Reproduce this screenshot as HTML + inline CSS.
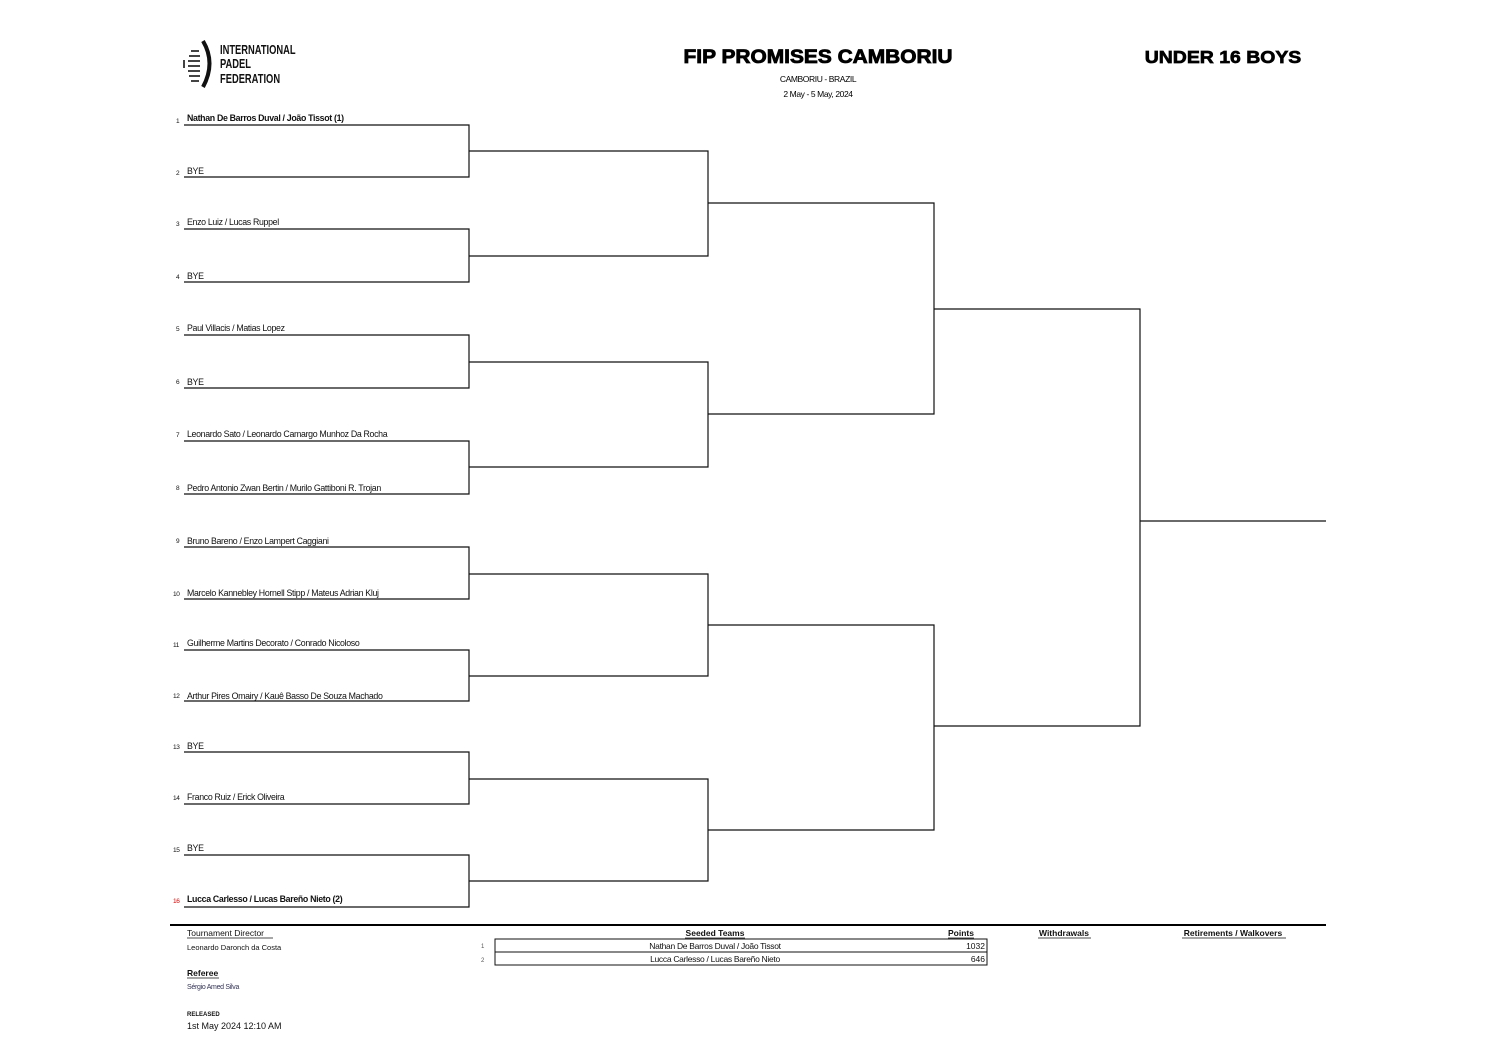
<!DOCTYPE html>
<html><head><meta charset="utf-8"><style>
html,body{margin:0;padding:0;background:#fff;}
svg{display:block;font-family:"Liberation Sans",sans-serif;}
.n{font-size:8.8px;letter-spacing:-0.33px;fill:#111;}
.b{font-weight:bold;}
.num{font-size:6.5px;fill:#111;}
</style></head><body>
<svg width="1496" height="1059" viewBox="0 0 1496 1059" xmlns="http://www.w3.org/2000/svg">
<!-- logo -->
<path d="M203 41 Q216 63 203 87" stroke="#111" stroke-width="4" fill="none"/>
<g fill="#444">
<rect x="191" y="50" width="8" height="2"/><rect x="189" y="55" width="11" height="2"/><rect x="188" y="60" width="12" height="2"/><rect x="188" y="65" width="12" height="2"/><rect x="188" y="70" width="12" height="2"/><rect x="189" y="75" width="11" height="2"/><rect x="191" y="80" width="8" height="2"/><rect x="183" y="60" width="2" height="8"/>
</g>
<g font-size="13" font-weight="bold" fill="#111" transform="translate(220,0) scale(0.72,1)">
<text x="0" y="54">INTERNATIONAL</text><text x="0" y="68">PADEL</text><text x="0" y="83">FEDERATION</text>
</g>
<g transform="translate(818,0) scale(1.1,1)">
<text x="0" y="63" font-size="19" font-weight="bold" text-anchor="middle" fill="#000" stroke="#000" stroke-width="0.8">FIP PROMISES CAMBORIU</text>
</g>
<g transform="translate(1223,0) scale(1.08,1)">
<text x="0" y="63" font-size="18" font-weight="bold" text-anchor="middle" fill="#000" stroke="#000" stroke-width="0.7">UNDER 16 BOYS</text>
</g>
<text x="818" y="82" font-size="8.5" text-anchor="middle" letter-spacing="-0.4">CAMBORIU - BRAZIL</text>
<text x="818" y="97" font-size="8.5" text-anchor="middle" letter-spacing="-0.4">2 May - 5 May, 2024</text>

<g stroke="#111" stroke-width="1.2" fill="none">
<path d="M184 125H469V177H184"/><path d="M184 229H469V282H184"/>
<path d="M184 335H469V388H184"/><path d="M184 441H469V494H184"/>
<path d="M184 547H469V599H184"/><path d="M184 650H469V701H184"/>
<path d="M184 752H469V804H184"/><path d="M184 855H469V907H184"/>
<path d="M469 151H708V256H469"/><path d="M469 362H708V467H469"/>
<path d="M469 574H708V676H469"/><path d="M469 779H708V881H469"/>
<path d="M708 203H934V414H708"/><path d="M708 625H934V830H708"/>
<path d="M934 309H1140V726H934"/>
<path d="M1140 521H1326"/>
</g>

<g class="n">
<text x="176" y="123" class="num">1</text><text x="187" y="121" class="b">Nathan De Barros Duval / João Tissot (1)</text>
<text x="176" y="175" class="num">2</text><text x="187" y="174">BYE</text>
<text x="176" y="226" class="num">3</text><text x="187" y="225">Enzo Luiz / Lucas Ruppel</text>
<text x="176" y="279" class="num">4</text><text x="187" y="279">BYE</text>
<text x="176" y="331" class="num">5</text><text x="187" y="331">Paul Villacis / Matias Lopez</text>
<text x="176" y="384" class="num">6</text><text x="187" y="385">BYE</text>
<text x="176" y="437" class="num">7</text><text x="187" y="437">Leonardo Sato / Leonardo Camargo Munhoz Da Rocha</text>
<text x="176" y="490" class="num">8</text><text x="187" y="491">Pedro Antonio Zwan Bertin / Murilo Gattiboni R. Trojan</text>
<text x="176" y="543" class="num">9</text><text x="187" y="544">Bruno Bareno / Enzo Lampert Caggiani</text>
<text x="173" y="596" class="num">10</text><text x="187" y="596">Marcelo Kannebley Hornell Stipp / Mateus Adrian Kluj</text>
<text x="173" y="647" class="num">11</text><text x="187" y="646">Guilherme Martins Decorato / Conrado Nicoloso</text>
<text x="173" y="698" class="num">12</text><text x="187" y="699">Arthur Pires Omairy / Kauê Basso De Souza Machado</text>
<text x="173" y="749" class="num">13</text><text x="187" y="749">BYE</text>
<text x="173" y="800" class="num">14</text><text x="187" y="800">Franco Ruiz / Erick Oliveira</text>
<text x="173" y="852" class="num">15</text><text x="187" y="851">BYE</text>
<text x="173" y="903" class="num" style="fill:#d00">16</text><text x="187" y="902" class="b">Lucca Carlesso / Lucas Bareño Nieto (2)</text>
</g>

<rect x="170" y="924" width="1156" height="2" fill="#000"/>
<g font-size="8.5" fill="#111">
<text x="187" y="936">Tournament Director</text><line x1="187" y1="938" x2="273" y2="938" stroke="#111" stroke-width="0.7"/>
<text x="187" y="950" font-size="7.5">Leonardo Daronch da Costa</text>
<text x="187" y="976" font-weight="bold">Referee</text><line x1="187" y1="978" x2="219" y2="978" stroke="#111" stroke-width="0.7"/>
<text x="187" y="989" font-size="7" fill="#335" letter-spacing="-0.3">Sérgio Amed Silva</text>
<text x="187" y="1016" font-size="6" font-weight="bold">RELEASED</text>
<text x="187" y="1029" font-size="9">1st May 2024 12:10 AM</text>
<text x="715" y="936" text-anchor="middle" font-weight="bold">Seeded Teams</text><line x1="685" y1="938" x2="745" y2="938" stroke="#111" stroke-width="0.7"/>
<text x="961" y="936" text-anchor="middle" font-weight="bold">Points</text><line x1="948" y1="938" x2="974" y2="938" stroke="#111" stroke-width="0.7"/>
<text x="1064" y="936" text-anchor="middle" font-weight="bold">Withdrawals</text><line x1="1038" y1="938" x2="1091" y2="938" stroke="#111" stroke-width="0.7"/>
<text x="1233" y="936" text-anchor="middle" font-weight="bold">Retirements / Walkovers</text><line x1="1182" y1="938" x2="1286" y2="938" stroke="#111" stroke-width="0.7"/>
<text x="481" y="948" font-size="6" fill="#555">1</text><text x="481" y="962" font-size="6" fill="#555">2</text>
<rect x="495" y="939" width="492" height="26" fill="none" stroke="#111" stroke-width="1"/>
<line x1="495" y1="952" x2="987" y2="952" stroke="#111" stroke-width="1"/>
<text x="715" y="949" text-anchor="middle" letter-spacing="-0.3">Nathan De Barros Duval / João Tissot</text>
<text x="715" y="962" text-anchor="middle" letter-spacing="-0.3">Lucca Carlesso / Lucas Bareño Nieto</text>
<text x="985" y="949" text-anchor="end">1032</text>
<text x="985" y="962" text-anchor="end">646</text>
</g>
</svg>
</body></html>
